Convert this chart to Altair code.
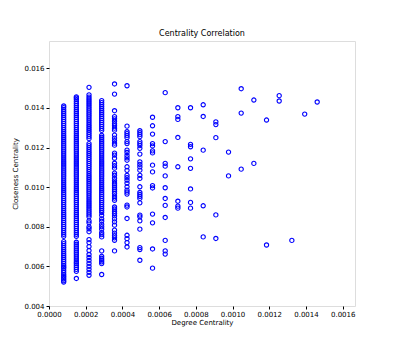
import altair as alt
import pandas as pd

# Degree-centrality value of each column (x positions)
degree_levels = [0.0000801, 0.000149, 0.000218, 0.000287, 0.000357, 0.000425,
                 0.000495, 0.000564, 0.000633, 0.000702, 0.000771, 0.000840,
                 0.000909, 0.000978, 0.001047, 0.001116, 0.001185, 0.001254,
                 0.001323, 0.001393, 0.001461]

# Closeness-centrality values observed in each column
c1 = [0.00521, 0.00528, 0.00536, 0.00544, 0.00552, 0.00560, 0.00570, 0.00580, 0.00590, 0.00597,
      0.00605, 0.00615, 0.00625, 0.00635, 0.00645, 0.00655, 0.00665, 0.00675, 0.00685, 0.00695,
      0.00705, 0.00715, 0.00725, 0.00752, 0.00762, 0.00772, 0.00782, 0.00792, 0.00802, 0.00812,
      0.00822, 0.00832, 0.00842, 0.00852, 0.00862, 0.00872, 0.00882, 0.00892, 0.00902, 0.00912,
      0.00922, 0.00932, 0.00942, 0.00952, 0.00962, 0.00972, 0.00982, 0.00992, 0.01002, 0.01012,
      0.01022, 0.01032, 0.01042, 0.01052, 0.01062, 0.01072, 0.01082, 0.01092, 0.01102, 0.01112,
      0.01122, 0.01132, 0.01142, 0.01152, 0.01162, 0.01172, 0.01182, 0.01192, 0.01202, 0.01212,
      0.01222, 0.01232, 0.01242, 0.01252, 0.01262, 0.01272, 0.01282, 0.01292, 0.01302, 0.01312,
      0.01322, 0.01332, 0.01342, 0.01352, 0.01362, 0.01372, 0.01382, 0.01392, 0.01402, 0.01410]
c2 = [0.00539, 0.00575, 0.00585, 0.00595, 0.00605, 0.00614, 0.00622, 0.00632, 0.00642, 0.00652,
      0.00662, 0.00672, 0.00682, 0.00692, 0.00702, 0.00712, 0.00722, 0.00752, 0.00762, 0.00772,
      0.00782, 0.00792, 0.00802, 0.00812, 0.00822, 0.00832, 0.00842, 0.00852, 0.00862, 0.00872,
      0.00882, 0.00892, 0.00902, 0.00912, 0.00922, 0.00932, 0.00942, 0.00952, 0.00962, 0.00972,
      0.00982, 0.00992, 0.01002, 0.01012, 0.01022, 0.01032, 0.01042, 0.01052, 0.01062, 0.01072,
      0.01082, 0.01092, 0.01102, 0.01112, 0.01122, 0.01132, 0.01142, 0.01152, 0.01162, 0.01172,
      0.01182, 0.01192, 0.01202, 0.01212, 0.01222, 0.01232, 0.01242, 0.01252, 0.01262, 0.01272,
      0.01282, 0.01292, 0.01302, 0.01312, 0.01322, 0.01332, 0.01342, 0.01352, 0.01362, 0.01372,
      0.01382, 0.01392, 0.01402, 0.01412, 0.01422, 0.01432, 0.01442, 0.01450, 0.01456]
c3 = [0.00555, 0.00570, 0.00585, 0.00600, 0.00615, 0.00630, 0.00645, 0.00660, 0.00680, 0.00700,
      0.00720, 0.00735, 0.00775, 0.00790, 0.00800, 0.00820, 0.00830, 0.00850, 0.00860, 0.00870,
      0.00880, 0.00890, 0.00900, 0.00910, 0.00920, 0.00930, 0.00940, 0.00950, 0.00960, 0.00970,
      0.00980, 0.00990, 0.01000, 0.01010, 0.01020, 0.01030, 0.01040, 0.01050, 0.01060, 0.01070,
      0.01080, 0.01090, 0.01100, 0.01110, 0.01120, 0.01130, 0.01140, 0.01150, 0.01160, 0.01170,
      0.01180, 0.01190, 0.01200, 0.01210, 0.01220, 0.01245, 0.01255, 0.01265, 0.01275, 0.01285,
      0.01295, 0.01305, 0.01315, 0.01325, 0.01335, 0.01345, 0.01355, 0.01365, 0.01375, 0.01385,
      0.01395, 0.01405, 0.01415, 0.01425, 0.01435, 0.01445, 0.01455, 0.01466, 0.01504]
c4 = [0.00559, 0.00614, 0.00623, 0.00632, 0.00641, 0.00651, 0.00678, 0.00749, 0.00760, 0.00770,
      0.00788, 0.00800, 0.00812, 0.00828, 0.00840, 0.00858, 0.00872, 0.00882, 0.00892, 0.00902,
      0.00912, 0.00922, 0.00932, 0.00942, 0.00952, 0.00962, 0.00972, 0.00982, 0.00992, 0.01002,
      0.01012, 0.01022, 0.01032, 0.01042, 0.01052, 0.01062, 0.01072, 0.01082, 0.01092, 0.01102,
      0.01112, 0.01122, 0.01132, 0.01142, 0.01152, 0.01162, 0.01172, 0.01182, 0.01192, 0.01202,
      0.01212, 0.01222, 0.01232, 0.01242, 0.01252, 0.01262, 0.01287, 0.01297, 0.01307, 0.01317,
      0.01327, 0.01337, 0.01347, 0.01357, 0.01367, 0.01377, 0.01387, 0.01397, 0.01407, 0.01417,
      0.01427, 0.01437]
c5 = [0.01521, 0.01470, 0.01386, 0.01356, 0.01345, 0.01333, 0.01320, 0.01310, 0.01298, 0.01288,
      0.01263, 0.01248, 0.01235, 0.01222, 0.01212, 0.01172, 0.01162, 0.01146, 0.01121, 0.01108,
      0.01096, 0.01071, 0.01060, 0.01045, 0.01032, 0.01020, 0.01010, 0.01000, 0.00990, 0.00980,
      0.00968, 0.00955, 0.00945, 0.00934, 0.00900, 0.00890, 0.00878, 0.00867, 0.00855, 0.00840,
      0.00825, 0.00808, 0.00783, 0.00768, 0.00755, 0.00744, 0.00732, 0.00678]
c6 = [0.01512, 0.01308, 0.01280, 0.01270, 0.01260, 0.01250, 0.01230, 0.01220, 0.01187, 0.01175,
      0.01160, 0.01148, 0.01136, 0.01103, 0.01085, 0.01060, 0.01048, 0.01035, 0.01020, 0.01002,
      0.00985, 0.00975, 0.00965, 0.00909, 0.00900, 0.00842, 0.00757, 0.00740, 0.00720, 0.00698]
c7 = [0.01285, 0.01275, 0.01265, 0.01255, 0.01230, 0.01220, 0.01210, 0.01196, 0.01167, 0.01128,
      0.01115, 0.01102, 0.01086, 0.01060, 0.01044, 0.01002, 0.00973, 0.00963, 0.00953, 0.00943,
      0.00921, 0.00859, 0.00850, 0.00830, 0.00788, 0.00695, 0.00685, 0.00631]
c8 = [0.01353, 0.01310, 0.01268, 0.01220, 0.01208, 0.01183, 0.01173, 0.01111, 0.01077, 0.01008,
      0.00996, 0.00864, 0.00820, 0.00688, 0.00591]
c9 = [0.01477, 0.01230, 0.01120, 0.01106, 0.01057, 0.00997, 0.00943, 0.00908, 0.00847, 0.00731,
      0.00678, 0.00662]
c10 = [0.01401, 0.01356, 0.01342, 0.01251, 0.01103, 0.00929, 0.00904, 0.00894]
c11 = [0.01401, 0.01216, 0.01204, 0.01143, 0.01095, 0.00991, 0.00923, 0.00894]
c12 = [0.01416, 0.01357, 0.01187, 0.00906, 0.00749]
c13 = [0.01330, 0.01316, 0.01250, 0.00860, 0.00741]
c14 = [0.01177, 0.01057]
c15 = [0.01497, 0.01374, 0.01091]
c16 = [0.01440, 0.01120]
c17 = [0.01339, 0.00708]
c18 = [0.01462, 0.01435]
c19 = [0.00731]
c20 = [0.01369]
c21 = [0.01430]

closeness_columns = [c1, c2, c3, c4, c5, c6, c7, c8, c9, c10, c11, c12, c13, c14,
                     c15, c16, c17, c18, c19, c20, c21]

x_ticks = [0.0, 0.0002, 0.0004, 0.0006, 0.0008, 0.0010, 0.0012, 0.0014, 0.0016]
y_ticks = [0.004, 0.006, 0.008, 0.010, 0.012, 0.014, 0.016]

rows = []
for deg, col in zip(degree_levels, closeness_columns):
    for v in col:
        rows.append({"degree": deg, "closeness": v})
df = pd.DataFrame(rows)

font = "DejaVu Sans"

chart = alt.Chart(df).mark_point(
    shape="circle", filled=False, color="#0000ff", size=18, strokeWidth=1.1, opacity=1
).encode(
    x=alt.X("degree:Q", title="Degree Centrality",
            scale=alt.Scale(domain=[0, 0.001667], nice=False, zero=False),
            axis=alt.Axis(values=x_ticks, format=".4f", grid=False, domain=False,
                          tickColor="black", tickSize=3, labelPadding=1,
                          labelFontSize=7, labelColor="black", labelFont=font,
                          titleFont=font, titleFontSize=7, titleFontWeight="normal",
                          titleColor="black", titlePadding=1, labelFlush=False)),
    y=alt.Y("closeness:Q", title="Closeness Centrality",
            scale=alt.Scale(domain=[0.004, 0.01738], nice=False, zero=False),
            axis=alt.Axis(values=y_ticks, format=".3f", grid=False, domain=False,
                          tickColor="black", tickSize=3, labelPadding=2,
                          labelFontSize=7, labelColor="black", labelFont=font,
                          titleFont=font, titleFontSize=7, titleFontWeight="normal",
                          titleColor="black", titlePadding=5, labelFlush=False)),
).properties(
    width=306, height=265,
    title=alt.TitleParams("Centrality Correlation", font=font, fontSize=8,
                          fontWeight="normal", color="black", offset=3),
    autosize=alt.AutoSizeParams(type="none"),
    padding={"left": 41, "top": 33, "right": 30, "bottom": 30},
).configure_view(
    stroke="#222222", strokeWidth=1
).configure(background="white")

chart.save("out.html", embed_options={"renderer": "svg", "actions": False})
